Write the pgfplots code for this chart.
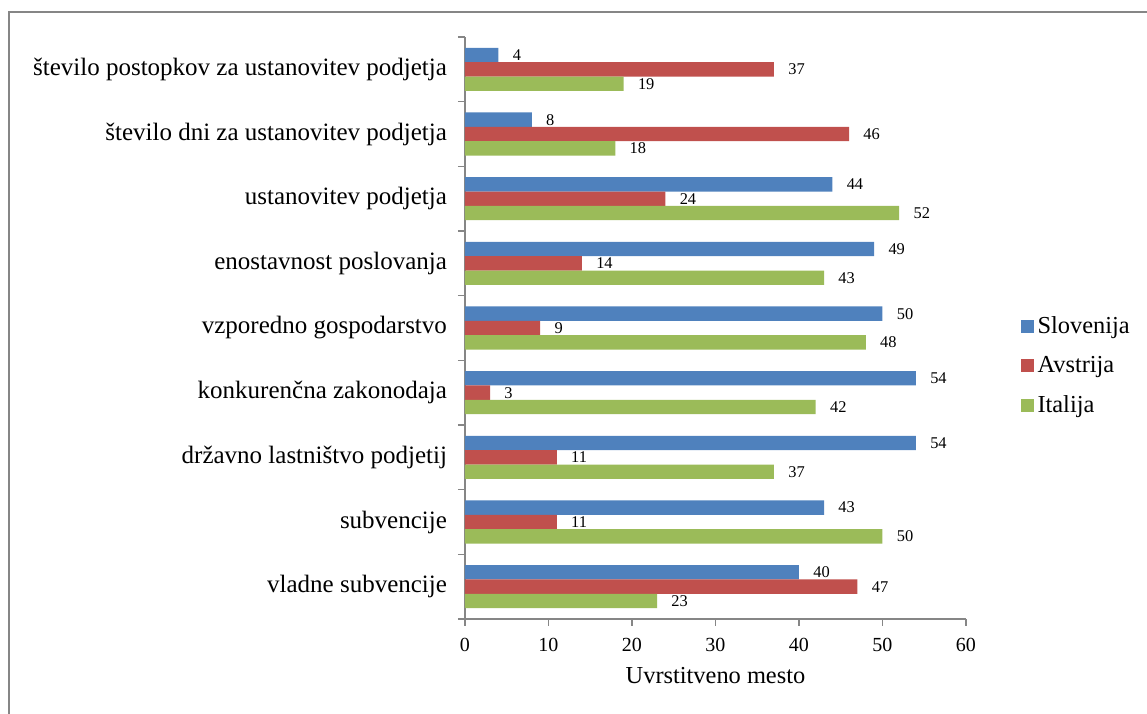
\documentclass[border=0pt]{standalone}
\usepackage{fontspec}
\setmainfont{Liberation Serif}
\usepackage{pgfplots}
\pgfplotsset{compat=1.18}
\definecolor{cblue}{HTML}{4F81BD}
\definecolor{cred}{HTML}{C0504D}
\definecolor{cgreen}{HTML}{9BBB59}
\definecolor{axgray}{HTML}{868686}
\begin{document}
\begin{tikzpicture}[x=1pt,y=1pt]
\useasboundingbox (0,0) rectangle (573.5,356.5);
\draw[color=axgray, line width=1pt] (4.5,-3) -- (4.5,350.5) -- (577,350.5);
\begin{axis}[
  at={(232.5pt,47pt)}, anchor=south west,
  scale only axis, width=250.5pt, height=291pt,
  xbar, bar width=0.222,
  xmin=0, xmax=60, ymin=-0.5, ymax=8.5,
  xtick={0,10,...,60},
  ytick={0,...,8},
  yticklabels={vladne subvencije, subvencije, državno lastništvo podjetij, konkurenčna zakonodaja, vzporedno gospodarstvo, enostavnost poslovanja, ustanovitev podjetja, število dni za ustanovitev podjetja, število postopkov za ustanovitev podjetja},
  minor ytick={-0.5,0.5,...,8.5},
  axis x line*=bottom, axis y line*=left,
  axis line style={draw=axgray, line width=0.7pt, -},
  tick align=outside,
  major tick length=3.5pt, minor tick length=3.5pt,
  tick style={draw=axgray, line width=0.7pt},
  major y tick style={draw=none},
  /pgf/number format/assume math mode=true,
  xticklabel style={font=\fontsize{10}{12}\selectfont, yshift=-2.5pt},
  yticklabel style={font=\fontsize{12.5}{15}\selectfont, xshift=-2pt},
  xlabel={Uvrstitveno mesto},
  xlabel style={font=\fontsize{12.2}{14}\selectfont, at={(axis description cs:0.5,0)}, anchor=base, yshift=-32pt},
  nodes near coords,
  nodes near coords style={font=\fontsize{8.2}{10}\selectfont, text=black, anchor=west, inner sep=0pt, xshift=7pt},
  legend style={draw=none, fill=none, at={(1.108,0.435)}, anchor=west, inner sep=0pt, font=\fontsize{12.2}{14}\selectfont, row sep=6pt},
  legend cell align=left,
  legend image code/.code={\fill[#1] (0pt,-3.2pt) rectangle (6.5pt,3.2pt);},
]
\addplot[fill=cblue, draw=none, bar shift=0.222] coordinates {(40,0) (43,1) (54,2) (54,3) (50,4) (49,5) (44,6) (8,7) (4,8)};
\addplot[fill=cred, draw=none, bar shift=0] coordinates {(47,0) (11,1) (11,2) (3,3) (9,4) (14,5) (24,6) (46,7) (37,8)};
\addplot[fill=cgreen, draw=none, bar shift=-0.222] coordinates {(23,0) (50,1) (37,2) (42,3) (48,4) (43,5) (52,6) (18,7) (19,8)};
\legend{Slovenija, Avstrija, Italija}
\end{axis}
\end{tikzpicture}
\end{document}
